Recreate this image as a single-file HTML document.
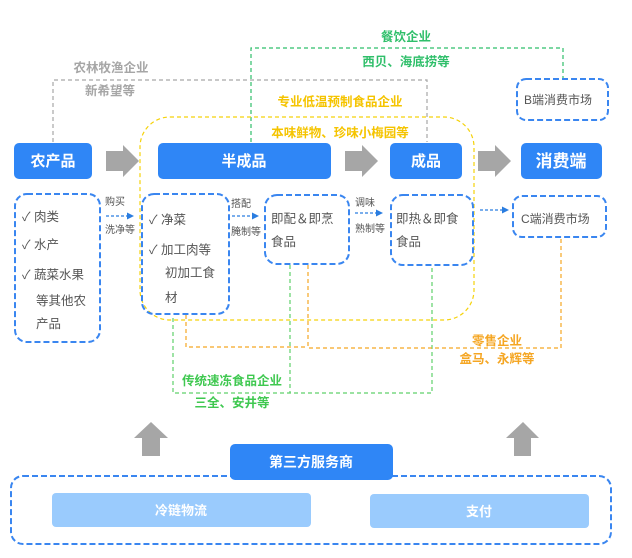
<!DOCTYPE html>
<html><head><meta charset="utf-8"><style>
html,body{margin:0;padding:0;background:#fff;}
svg{display:block;font-family:"Liberation Sans","Noto Sans CJK SC",sans-serif;}
</style></head><body>
<svg width="632" height="558" viewBox="0 0 632 558" xmlns="http://www.w3.org/2000/svg">
<g fill="none" stroke-width="1.2" stroke-dasharray="4,3">
 <polyline points="53,142 53,80 427,80 427,142" stroke="#a6a6a6"/>
 <polyline points="251,142 251,48 563,48 563,79" stroke="#2fbf6a"/>
 <rect x="140" y="117" width="334" height="203" rx="30" stroke="#f5d20a"/>
 <polyline points="173,318 173,393 432,393 432,265" stroke="#5fd06a"/>
 <line x1="290" y1="265" x2="290" y2="393" stroke="#5fd06a"/>
 <polyline points="186,315 186,347 308,347" stroke="#f5a623"/>
 <polyline points="308,265 308,348 561,348 561,237" stroke="#f5a623"/>
</g>
<g fill="none" stroke="#3a86f0" stroke-width="2" stroke-dasharray="6,3">
 <rect x="517" y="79" width="91" height="41" rx="9"/>
 <rect x="15" y="194" width="85" height="148" rx="12"/>
 <rect x="142" y="194" width="87" height="120" rx="12"/>
 <rect x="265" y="195" width="84" height="69" rx="12"/>
 <rect x="391" y="195" width="82" height="70" rx="12"/>
 <rect x="513" y="196" width="93" height="41" rx="9"/>
 <rect x="11" y="476" width="600" height="68" rx="12"/>
</g>
<g fill="#2f86f6">
 <rect x="14" y="143" width="78" height="36" rx="5"/>
 <rect x="158" y="143" width="173" height="36" rx="5"/>
 <rect x="390" y="143" width="72" height="36" rx="5"/>
 <rect x="521" y="143" width="81" height="36" rx="5"/>
 <rect x="230" y="444" width="163" height="36" rx="5"/>
</g>
<g fill="#9acbfd">
 <rect x="52" y="493" width="259" height="34" rx="4"/>
 <rect x="370" y="494" width="219" height="34" rx="4"/>
</g>
<g fill="#a6a6a6">
 <polygon points="106,151 123,151 123,145 139,161 123,177 123,171 106,171"/>
 <polygon points="345,151 362,151 362,145 378,161 362,177 362,171 345,171"/>
 <polygon points="478,151 495,151 495,145 511,161 495,177 495,171 478,171"/>
 <polygon points="151,422 168,438 160,438 160,456 142,456 142,438 134,438"/>
 <polygon points="523,422 539,438 531,438 531,456 514,456 514,438 506,438"/>
</g>
<g stroke="#2a7de0" stroke-width="1.2" stroke-dasharray="3,2">
 <line x1="106" y1="216" x2="128" y2="216"/>
 <line x1="232" y1="216" x2="253" y2="216"/>
 <line x1="355" y1="213" x2="377" y2="213"/>
 <line x1="480" y1="210" x2="503" y2="210"/>
</g>
<g fill="#2a7de0">
 <polygon points="134,216 127,212.5 127,219.5"/>
 <polygon points="259,216 252,212.5 252,219.5"/>
 <polygon points="383,213 376,209.5 376,216.5"/>
 <polygon points="509,210 502,206.5 502,213.5"/>
</g>
<g font-weight="bold" text-anchor="middle" font-size="13" fill="#fff">
 <text x="53" y="166" font-size="15">农产品</text>
 <text x="244" y="166" font-size="15">半成品</text>
 <text x="426" y="166" font-size="15">成品</text>
 <text x="561" y="167" font-size="17">消费端</text>
 <text x="311" y="467" font-size="14">第三方服务商</text>
 <text x="181" y="515">冷链物流</text>
 <text x="479" y="516">支付</text>
</g>
<g font-weight="bold" text-anchor="middle" font-size="12.5">
 <text x="406" y="41" fill="#2fbf6a">餐饮企业</text>
 <text x="406" y="66" fill="#2fbf6a">西贝、海底捞等</text>
 <text x="111" y="72" fill="#a6a6a6">农林牧渔企业</text>
 <text x="110" y="95" fill="#a6a6a6">新希望等</text>
 <text x="340" y="106" fill="#f5c400">专业低温预制食品企业</text>
 <text x="340" y="137" fill="#f5c400">本味鲜物、珍味小梅园等</text>
 <text x="497" y="345" fill="#f5a623">零售企业</text>
 <text x="497" y="363" fill="#f5a623">盒马、永辉等</text>
 <text x="232" y="385" fill="#3fc850">传统速冻食品企业</text>
 <text x="232" y="407" fill="#3fc850">三全、安井等</text>
</g>
<g font-size="12.5" fill="#555">
 <text x="22" y="221">✓ 肉类</text>
 <text x="22" y="249">✓ 水产</text>
 <text x="22" y="279">✓ 蔬菜水果</text>
 <text x="36" y="305">等其他农</text>
 <text x="36" y="328">产品</text>
 <text x="149" y="224">✓ 净菜</text>
 <text x="149" y="254">✓ 加工肉等</text>
 <text x="165" y="277">初加工食</text>
 <text x="165" y="302">材</text>
 <text x="271" y="223">即配＆即烹</text>
 <text x="271" y="246">食品</text>
 <text x="396" y="223">即热＆即食</text>
 <text x="396" y="246">食品</text>
 <text x="521" y="223" font-size="12">C端消费市场</text>
 <text x="524" y="104" font-size="12">B端消费市场</text>
</g>
<g font-size="10" fill="#555">
 <text x="105" y="205">购买</text>
 <text x="105" y="233">洗净等</text>
 <text x="231" y="207">搭配</text>
 <text x="231" y="235">腌制等</text>
 <text x="355" y="206">调味</text>
 <text x="355" y="232">熟制等</text>
</g>
</svg>
</body></html>
